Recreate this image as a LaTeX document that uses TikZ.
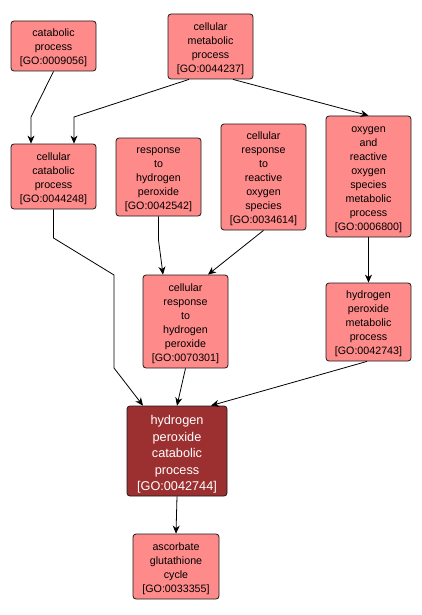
\documentclass[tikz,border=0pt]{standalone}
\usepackage{fontspec}
\setmainfont{Liberation Sans}
\usetikzlibrary{arrows.meta}
\definecolor{lightgo}{HTML}{FF8A8A}
\definecolor{darkgo}{HTML}{9C2F2F}
\definecolor{edgeline}{HTML}{1A1A1A}
\newcommand\gotop{\rule{0pt}{12pt}}
\newcommand\gotopmain{\rule{0pt}{16pt}}
\begin{document}
\begin{tikzpicture}[x=1pt,y=-1pt,
  gobox/.style={draw=edgeline,line width=0.8pt,rounded corners=3pt,fill=lightgo,
    inner sep=0pt,align=center,minimum width=85pt,
    font=\fontsize{10.7pt}{14pt}\selectfont,text=black},
  gomain/.style={gobox,fill=darkgo,text=white,minimum width=100pt,
    font=\fontsize{12.7pt}{16.5pt}\selectfont},
  arr/.style={draw=black,line width=0.8pt,-{Stealth[length=8pt,width=7pt,inset=2.5pt]}}]
\useasboundingbox (0,0) rectangle (421,615);
\fill[white] (0,0) rectangle (421,615);
\node[gobox,minimum height=50pt] (n1) at (53.5,46) {\gotop catabolic\\process\\{[GO:0009056]}};
\node[gobox,minimum height=65pt] (n2) at (210.5,46.5) {\gotop cellular\\metabolic\\process\\{[GO:0044237]}};
\node[gobox,minimum height=65pt] (n3) at (53.5,176.5) {\gotop cellular\\catabolic\\process\\{[GO:0044248]}};
\node[gobox,minimum height=78pt] (n4) at (158.5,177) {\gotop response\\to\\hydrogen\\peroxide\\{[GO:0042542]}};
\node[gobox,minimum height=106pt] (n5) at (263.5,177) {\gotop cellular\\response\\to\\reactive\\oxygen\\species\\{[GO:0034614]}};
\node[gobox,minimum height=121pt] (n6) at (368.5,176.5) {\gotop oxygen\\and\\reactive\\oxygen\\species\\metabolic\\process\\{[GO:0006800]}};
\node[gobox,minimum height=93pt] (n7) at (185.5,321.5) {\gotop cellular\\response\\to\\hydrogen\\peroxide\\{[GO:0070301]}};
\node[gobox,minimum height=78pt] (n8) at (368.5,322) {\gotop hydrogen\\peroxide\\metabolic\\process\\{[GO:0042743]}};
\node[gomain,minimum height=90pt] (n9) at (177,451) {\gotopmain hydrogen\\peroxide\\catabolic\\process\\{[GO:0042744]}};
\node[gobox,minimum width=86pt,minimum height=65pt] (n10) at (176,566.5) {\gotop ascorbate\\glutathione\\cycle\\{[GO:0033355]}};
\draw[arr] (n1.south) -- (31,117) -- ([xshift=-22.5pt]n3.north);
\draw[arr] ([xshift=-21.5pt]n2.south) -- (74,117) -- ([xshift=20.5pt]n3.north);
\draw[arr] ([xshift=22.5pt]n2.south) -- (n6.north);
\draw[arr] (n4.south) -- (158.5,240) -- ([xshift=-22.5pt]n7.north);
\draw[arr] (n5.south) -- ([xshift=22.5pt]n7.north);
\draw[arr] (n6.south) -- (n8.north);
\draw[arr] (n3.south) -- (53.5,238) -- (114,275) -- (114,368) -- ([xshift=-34pt]n9.north);
\draw[arr] (n7.south) -- (n9.north);
\draw[arr] ([xshift=-1.5pt]n8.south) -- ([xshift=34pt]n9.north);
\draw[arr] (n9.south) -- (n10.north);
\end{tikzpicture}
\end{document}
